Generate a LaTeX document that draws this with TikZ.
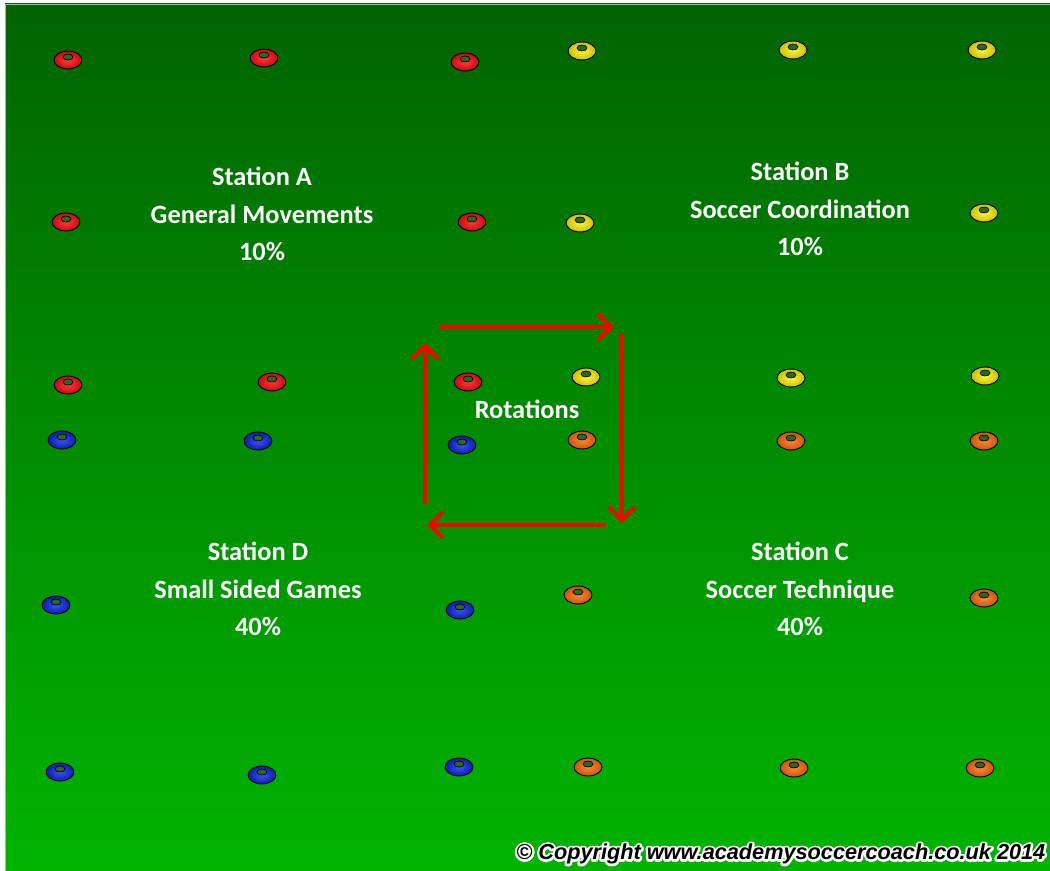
\documentclass[tikz,border=0pt]{standalone}
\usepackage{fontspec}
\setmainfont{Carlito}
\newfontfamily\copyfont{Liberation Sans}
\usetikzlibrary{arrows.meta,shapes.geometric}
\definecolor{fieldtop}{HTML}{006400}
\definecolor{fieldbot}{HTML}{00B400}
\definecolor{arrowred}{HTML}{FF0000}
\definecolor{holegreen}{HTML}{2A6A1E}
\definecolor{conered}{HTML}{FF0A0A}
\definecolor{coneyellow}{HTML}{FFF000}
\definecolor{coneblue}{HTML}{0A28F0}
\definecolor{coneorange}{HTML}{FF6A0A}
\tikzset{
  conebody/.style={ellipse,draw=black,line width=0.5pt,minimum width=28*0.567pt,minimum height=18*0.567pt,inner sep=0pt},
  conehole/.style={ellipse,draw=black,line width=0.4pt,fill=holegreen,minimum width=10*0.567pt,minimum height=6*0.567pt,inner sep=0pt},
  redcone/.style={inner color=conered!80!white,outer color=conered!80!black},
  yellowcone/.style={inner color=coneyellow!75!white,outer color=coneyellow!80!black},
  bluecone/.style={inner color=coneblue!80!white,outer color=coneblue!75!black},
  orangecone/.style={inner color=coneorange!80!white,outer color=coneorange!80!black},
  stationtext/.style={text=white,align=center,font=\fontsize{15}{21.3}\selectfont\bfseries,inner sep=0pt},
  copytext/.style={anchor=west,inner sep=0pt,font=\copyfont\fontsize{12.35}{14}\selectfont\bfseries\itshape},
  rotarrow/.style={draw=arrowred,line width=2.3pt,-{Straight Barb[length=7.5pt,width=15pt]}},
}
\newcommand\cone[4]{%
  \node[conebody,#4] (#1) at (#2,#3) {};
  \node[conehole] (#1h) at (#2,#3-3) {};
}
\newcommand\copystring{\textcopyright{} Copyright www.academysoccercoach.co.uk 2014}
\begin{document}
\begin{tikzpicture}[x=0.02cm,y=-0.02cm]
\useasboundingbox (0,0) rectangle (1050,871);
\fill[white] (0,0) rectangle (1050,871);
\shade[top color=fieldtop,bottom color=fieldbot] (5,4) rectangle (1052,873);
\draw[gray!60,line width=0.4pt] (5,873) -- (5,4) -- (1052,4);

% red cones (Station A)
\cone{r1}{68}{60}{redcone}
\cone{r2}{264}{58}{redcone}
\cone{r3}{465}{62}{redcone}
\cone{r4}{66}{222}{redcone}
\cone{r5}{472}{222}{redcone}
\cone{r6}{68}{385}{redcone}
\cone{r7}{272}{382}{redcone}
\cone{r8}{468}{382}{redcone}
% yellow cones (Station B)
\cone{y1}{582}{51}{yellowcone}
\cone{y2}{793}{50}{yellowcone}
\cone{y3}{982}{50}{yellowcone}
\cone{y4}{580}{223}{yellowcone}
\cone{y5}{984}{213}{yellowcone}
\cone{y6}{586}{377}{yellowcone}
\cone{y7}{791}{378}{yellowcone}
\cone{y8}{985}{376}{yellowcone}
% blue cones (Station D)
\cone{b1}{62}{440}{bluecone}
\cone{b2}{258}{441}{bluecone}
\cone{b3}{462}{445}{bluecone}
\cone{b4}{56}{605}{bluecone}
\cone{b5}{460}{610}{bluecone}
\cone{b6}{60}{772}{bluecone}
\cone{b7}{262}{775}{bluecone}
\cone{b8}{459}{767}{bluecone}
% orange cones (Station C)
\cone{o1}{582}{440}{orangecone}
\cone{o2}{791}{441}{orangecone}
\cone{o3}{984}{441}{orangecone}
\cone{o4}{578}{595}{orangecone}
\cone{o5}{984}{598}{orangecone}
\cone{o6}{588}{767}{orangecone}
\cone{o7}{794}{768}{orangecone}
\cone{o8}{980}{768}{orangecone}

% station labels
\node[stationtext] (sa) at (262,214) {Station A\\General Movements\\10\%};
\node[stationtext] (sb) at (800,209) {Station B\\Soccer Coordination\\10\%};
\node[stationtext] (sd) at (258,589) {Station D\\Small Sided Games\\40\%};
\node[stationtext] (sc) at (800,589) {Station C\\Soccer Technique\\40\%};
\node[stationtext] (rot) at (527,409) {Rotations};

% rotation arrows
\coordinate (t1) at (440,327);
\coordinate (t2) at (614,327);
\coordinate (r1a) at (622,333);
\coordinate (r2a) at (622,523);
\coordinate (b1a) at (605,525);
\coordinate (b2a) at (427,525);
\coordinate (l1) at (425,504);
\coordinate (l2) at (425,343);
\draw[rotarrow] (t1) -- (t2);
\draw[rotarrow] (r1a) -- (r2a);
\draw[rotarrow] (b1a) -- (b2a);
\draw[rotarrow] (l1) -- (l2);

% copyright with white glow (stroked outline copy beneath)
\node[copytext,text=white] (copyglow) at (516,854)
  {\special{pdf:literal direct 1 Tr 2.6 w 1 j}\copystring\special{pdf:literal direct 0 Tr 1 w 0 j}};
\node[copytext,text=black] (copy) at (516,854) {\copystring};
\end{tikzpicture}
\end{document}
